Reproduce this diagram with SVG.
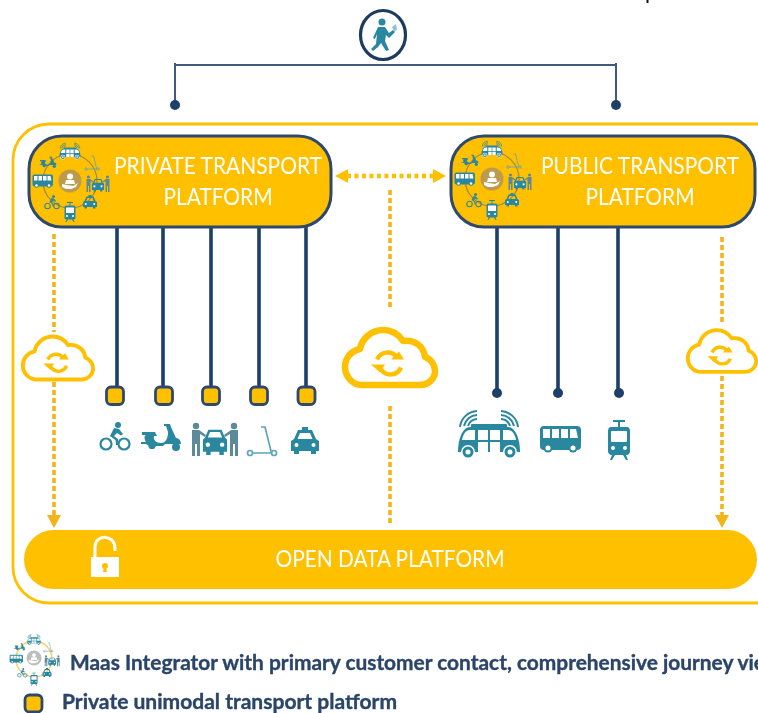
<svg xmlns="http://www.w3.org/2000/svg" xmlns:xlink="http://www.w3.org/1999/xlink" width="758" height="713" viewBox="0 0 758 713">
<style>
.plat{fill:#FFC000;stroke:#2F4A6D;stroke-width:3}
.pt{font-family:"Lato","Open Sans",sans-serif;font-size:23px;fill:#fff;text-anchor:middle}
.stem{stroke:#1F3F69;stroke-width:3.600;fill:none}
.sq{fill:#FFC000;stroke:#2F4A6D;stroke-width:2.800}
.dot{fill:#1F3F69}
.dash{stroke:#F2B417;stroke-width:3.600;stroke-dasharray:5 3;fill:none}
.dash2{stroke:#FFC000;stroke-width:4.500;stroke-dasharray:4 3.500;fill:none}
.head{fill:#F2B417}
.t{fill:#2A87A0}
.ts{fill:none;stroke:#2A87A0}
.w{fill:#fff}
.leg{font-family:"Lato","Open Sans",sans-serif;font-weight:700;font-size:20px;fill:#2A4568;stroke:#2A4568;stroke-width:.35}
.cl{fill:none;stroke:#FFC000;stroke-linejoin:round}
</style>
<defs>
<filter id="soft" x="0" y="0" width="758" height="713" filterUnits="userSpaceOnUse"><feGaussianBlur stdDeviation="0.5"/></filter>
<g id="bike"><circle class="ts" stroke-width="2.200" cx="-9" cy="8" r="5.500"/><circle class="ts" stroke-width="2.200" cx="9" cy="8" r="5.500"/><circle class="t" cx="3" cy="-11" r="3"/><path class="t" d="M-1-8 4-7 8-2 6-.5 2-3-1 0 3 3 3 9 1 9 .5 4-5 0Z"/></g>
<g id="scooter"><path class="t" d="M-19-7H-6L-4-3H-7C-8 1-5 4 0 4 5 4 7-1 7-7L5-13 3-13V-15H9L10-12 15-1C18-1 20 2 20 5H4L2 7H-12L-15 5H-20V3H-15C-17 0-17-3-15-4H-19ZM-13 7H-5L-7 10H-11Z"/><circle class="t" cx="15" cy="8" r="4"/></g>
<g id="car"><path class="t" fill-rule="evenodd" d="M-9-5-6-12H6L9-5 11-3V8H8V11H4V8H-4V11H-8V8H-11V-3ZM-6.500-5H6.500L4.500-10H-4.500Z"/><circle class="w" cx="-6.500" cy="1.500" r="2"/><circle class="w" cx="6.500" cy="1.500" r="2"/></g>
<g id="person"><circle cx="0" cy="-14" r="3.200"/><path d="M-4-10H3L10-5 9-3 4-6V16H1V4H-1V16H-4Z"/></g>
<g id="carpool"><g fill="#5C8A9A"><use xlink:href="#person" transform="translate(-19,2)"/><use xlink:href="#person" transform="translate(19,2) scale(-1,1)"/></g><use xlink:href="#car" transform="translate(0,5) scale(1.100)"/></g>
<g id="kick"><g fill="none" stroke="#5FA5B8" stroke-width="1.700"><circle cx="-12" cy="12" r="2.500"/><circle cx="12" cy="12" r="2.500"/><path d="M-9.500 12H9.500L3-14H-1"/></g></g>
<g id="taxi"><path class="t" fill-rule="evenodd" d="M-3-14H3V-11H7L11-2 14 0V10H11V13H6V10H-6V13H-11V10H-14V0L-11-2-7-11H-3ZM-7.500-2H7.500L5-8H-5Z"/><circle class="w" cx="-8.500" cy="4" r="2"/><circle class="w" cx="8.500" cy="4" r="2"/></g>
<g id="shuttle"><path class="t" d="M-31 12C-31-2-26-13-19-13H19C26-13 31-2 31 12Z"/><g fill="#fff"><path d="M-27 0C-26-6-23-10-19-10H-14V0Z"/><path d="M27 0C26-6 23-10 19-10H14V0Z"/><path d="M-11-10H-1V0H-11ZM1-10H11V0H1ZM-11 2H-1V12H-11ZM1 2H11V12H1Z"/></g><rect class="t" x="-18" y="-16" width="36" height="4" rx="1"/><circle class="w" cx="-21" cy="12" r="7"/><circle class="t" cx="-21" cy="12" r="5.500"/><circle class="w" cx="-21" cy="12" r="2.500"/><circle class="w" cx="21" cy="12" r="7"/><circle class="t" cx="21" cy="12" r="5.500"/><circle class="w" cx="21" cy="12" r="2.500"/><g class="ts" stroke-width="2"><path d="M-21-14A10 10 0 0 1-12-21M-25-14A14 14 0 0 1-12-25M-29-13A18 18 0 0 1-12-29"/><path d="M21-14A10 10 0 0 0 12-21M25-14A14 14 0 0 0 12-25M29-13A18 18 0 0 0 12-29"/></g></g>
<g id="bus"><rect class="t" x="-21" y="-13" width="41" height="24" rx="4"/><g fill="#fff"><rect x="-18" y="-10" width="7" height="9"/><rect x="-9" y="-10" width="7" height="9"/><rect x="0" y="-10" width="7" height="9"/><path d="M9-10H15L17-1H9Z"/></g><circle class="t" cx="-13" cy="9" r="4.500"/><circle class="w" cx="-13" cy="9" r="2.500"/><circle class="t" cx="12" cy="9" r="4.500"/><circle class="w" cx="12" cy="9" r="2.500"/></g>
<g id="tram"><path class="t" d="M-6-20H6V-18H1V-13H8C10-13 11-11 11-9V11C11 13 10 15 7 15L9 20H7L4 15H-4L-7 20H-9L-7 15C-10 15-11 13-11 11V-9C-11-11-10-13-8-13H-1V-18H-6Z"/><rect class="w" x="-8" y="-9" width="16" height="11" rx="1"/><circle class="w" cx="-6" cy="8" r="2"/><circle class="w" cx="6" cy="8" r="2"/></g>
<g id="hubicons">
<use xlink:href="#shuttle" transform="translate(0,-28) scale(.34)"/>
<use xlink:href="#kick" transform="translate(22,-18) scale(.5)"/>
<use xlink:href="#carpool" transform="translate(28,2) scale(.5)"/>
<use xlink:href="#taxi" transform="translate(20,21) scale(.5)"/>
<use xlink:href="#tram" transform="translate(0,31) scale(.5)"/>
<use xlink:href="#bike" transform="translate(-18,21) scale(.5)"/>
<use xlink:href="#bus" transform="translate(-27,0) scale(.5)"/>
<use xlink:href="#scooter" transform="translate(-22,-18) scale(.42)"/>
</g>
<g id="carer"><circle class="w" cx="0" cy="-4.500" r="3"/><path class="w" d="M-4-1H4L5 3H-5ZM-8 3-3 4 3 5 8 2 6 6 1 8H-4L-8 6Z"/></g>
<g id="cloud"><path class="cl" d="M-28 27.500C-38 27.500-45 18.500-45 9.500-45 .5-39-6.500-30-8.500-28-19.500-18-27.500-7-27.500 2-27.500 9-22.500 13-16.500 25-18.500 34-10.500 35-.5 41 1.500 45 7.500 45 13.500 45 21.500 38 27.500 30 27.500Z"/><g fill="none" stroke="#FFC000"><path d="M-13 2A11.500 11.500 0 0 1 7-0" stroke-width="4.500"/><path d="M11 10A11.500 11.500 0 0 1-9 12" stroke-width="4.500"/></g><path fill="#FFC000" d="M1 2H14L9-6ZM-19 7H-5L-10 15Z"/></g>
</defs>
<g filter="url(#soft)">
<rect width="758" height="713" fill="#fff"/>
<path d="M647.500 0V3" stroke="#111" stroke-width="2"/>

<g id="frame"><rect x="13" y="124" width="790" height="479" rx="36" fill="none" stroke="#FFC000" stroke-width="2.800"/></g>

<g id="connectors">
<path d="M175 105V63M175 65H616M616 63V105" fill="none" stroke="#3F5A7E" stroke-width="2"/>
<circle class="dot" cx="175" cy="105" r="5"/><circle class="dot" cx="616" cy="105" r="5"/>
<path class="stem" d="M117 227V388M163 227V388M211 227V388M259 227V388M306 227V388M497 227V393M558 227V393M618 227V393"/>
<circle class="dot" cx="497" cy="393" r="5"/><circle class="dot" cx="558" cy="393" r="5"/><circle class="dot" cx="619" cy="393" r="5"/>
<path class="dash" d="M54 234V332M54 382V516M390 190V308M390 406V526M722 237V324M722 376V516"/>
<path class="head" d="M47 515H61L54 528ZM715 515H729L722 528Z"/>
<path class="dash2" d="M347 176H433"/>
<path fill="#FFC000" d="M335 176 348 169V183ZM446 176 433 169V183Z"/>
</g>

<g id="user"><ellipse cx="383" cy="35" rx="22.500" ry="24.500" fill="#fff" stroke="#1F3A5F" stroke-width="3.200"/><circle class="t" cx="382" cy="22" r="3.500"/><path class="t" d="M378 27H385L389 33 393 30 395 32 389 38 386 35 385 41 389 50 386 51 381 43 378 47 373 51 371 49 376 44 377 34 375 39 373 38Z"/><path d="M392 27 396 24 397 30 394 31Z" fill="#8FC1CF"/></g>

<g id="private-platform"><rect class="plat" x="29" y="136" width="302" height="91" rx="33"/>
<circle cx="70" cy="181" r="27" fill="none" stroke="#A08A3C" stroke-width="1.200"/><circle cx="70" cy="181" r="11.500" fill="#BE9B4B"/><use xlink:href="#carer" transform="translate(70,181)"/><use xlink:href="#hubicons" transform="translate(70,181)"/>
<text class="pt" x="218" y="174" textLength="208" lengthAdjust="spacingAndGlyphs">PRIVATE TRANSPORT</text><text class="pt" x="218" y="205" textLength="109" lengthAdjust="spacingAndGlyphs">PLATFORM</text></g>

<g id="public-platform"><rect class="plat" x="451" y="136" width="304" height="91" rx="33"/>
<circle cx="492" cy="179" r="27" fill="none" stroke="#A08A3C" stroke-width="1.200"/><circle cx="492" cy="179" r="11.500" fill="#BE9B4B"/><use xlink:href="#carer" transform="translate(492,179)"/><use xlink:href="#hubicons" transform="translate(492,179)"/>
<text class="pt" x="640" y="174" textLength="198" lengthAdjust="spacingAndGlyphs">PUBLIC TRANSPORT</text><text class="pt" x="640" y="205" textLength="109" lengthAdjust="spacingAndGlyphs">PLATFORM</text></g>

<g id="open-data-platform"><rect x="24" y="530" width="733" height="59" rx="29.500" fill="#FFC000"/>
<path d="M95 557V547C95 534 115 534 115 548V551" fill="none" stroke="#fff" stroke-width="3"/><rect class="w" x="91" y="557" width="28" height="20"/><circle cx="105" cy="566" r="3" fill="#FFC000"/><path d="M104 567H106L107 572H103Z" fill="#FFC000"/>
<text class="pt" x="390" y="567" textLength="229" lengthAdjust="spacingAndGlyphs">OPEN DATA PLATFORM</text></g>

<g id="cloud-left"><use xlink:href="#cloud" transform="translate(58,358) scale(.78)" stroke-width="5"/></g>
<g id="cloud-center"><use xlink:href="#cloud" transform="translate(390,357.500)" stroke-width="6.500"/></g>
<g id="cloud-right"><use xlink:href="#cloud" transform="translate(722,351) scale(.76)" stroke-width="5"/></g>

<g id="private-nodes">
<rect class="sq" x="106.500" y="387" width="17" height="17.500" rx="4.500"/>
<rect class="sq" x="155.500" y="387" width="17" height="17.500" rx="4.500"/>
<rect class="sq" x="202.500" y="387" width="17" height="17.500" rx="4.500"/>
<rect class="sq" x="250.500" y="387" width="17" height="17.500" rx="4.500"/>
<rect class="sq" x="298" y="387" width="17" height="17.500" rx="4.500"/>
</g>

<g id="mode-icons">
<g id="icon-bike"><use xlink:href="#bike" transform="translate(115,436)"/></g>
<g id="icon-scooter"><use xlink:href="#scooter" transform="translate(161,439)"/></g>
<g id="icon-carpool"><use xlink:href="#carpool" transform="translate(215,438)"/></g>
<g id="icon-kick"><use xlink:href="#kick" transform="translate(262,441)"/></g>
<g id="icon-taxi"><use xlink:href="#taxi" transform="translate(305,441)"/></g>
<g id="icon-shuttle"><use xlink:href="#shuttle" transform="translate(489,440)"/></g>
<g id="icon-bus"><use xlink:href="#bus" transform="translate(561,439)"/></g>
<g id="icon-tram"><use xlink:href="#tram" transform="translate(619,440)"/></g>
</g>

<g id="legend">
<circle cx="34" cy="659" r="18" fill="none" stroke="#F5CF6B" stroke-width="1.500"/><circle cx="34" cy="658" r="7.500" fill="#BDBDBD"/><use xlink:href="#carer" transform="translate(34,658) scale(.65)"/><use xlink:href="#hubicons" transform="translate(34,659) scale(.65)"/>
<text class="leg" x="70" y="670" textLength="695" lengthAdjust="spacingAndGlyphs">Maas Integrator with primary customer contact, comprehensive journey vie</text>
<rect class="sq" x="25" y="695" width="17" height="17" rx="4.500" stroke-width="1.500"/>
<text class="leg" x="62" y="709" textLength="335" lengthAdjust="spacingAndGlyphs">Private unimodal transport platform</text>
</g>
</g>
</svg>
